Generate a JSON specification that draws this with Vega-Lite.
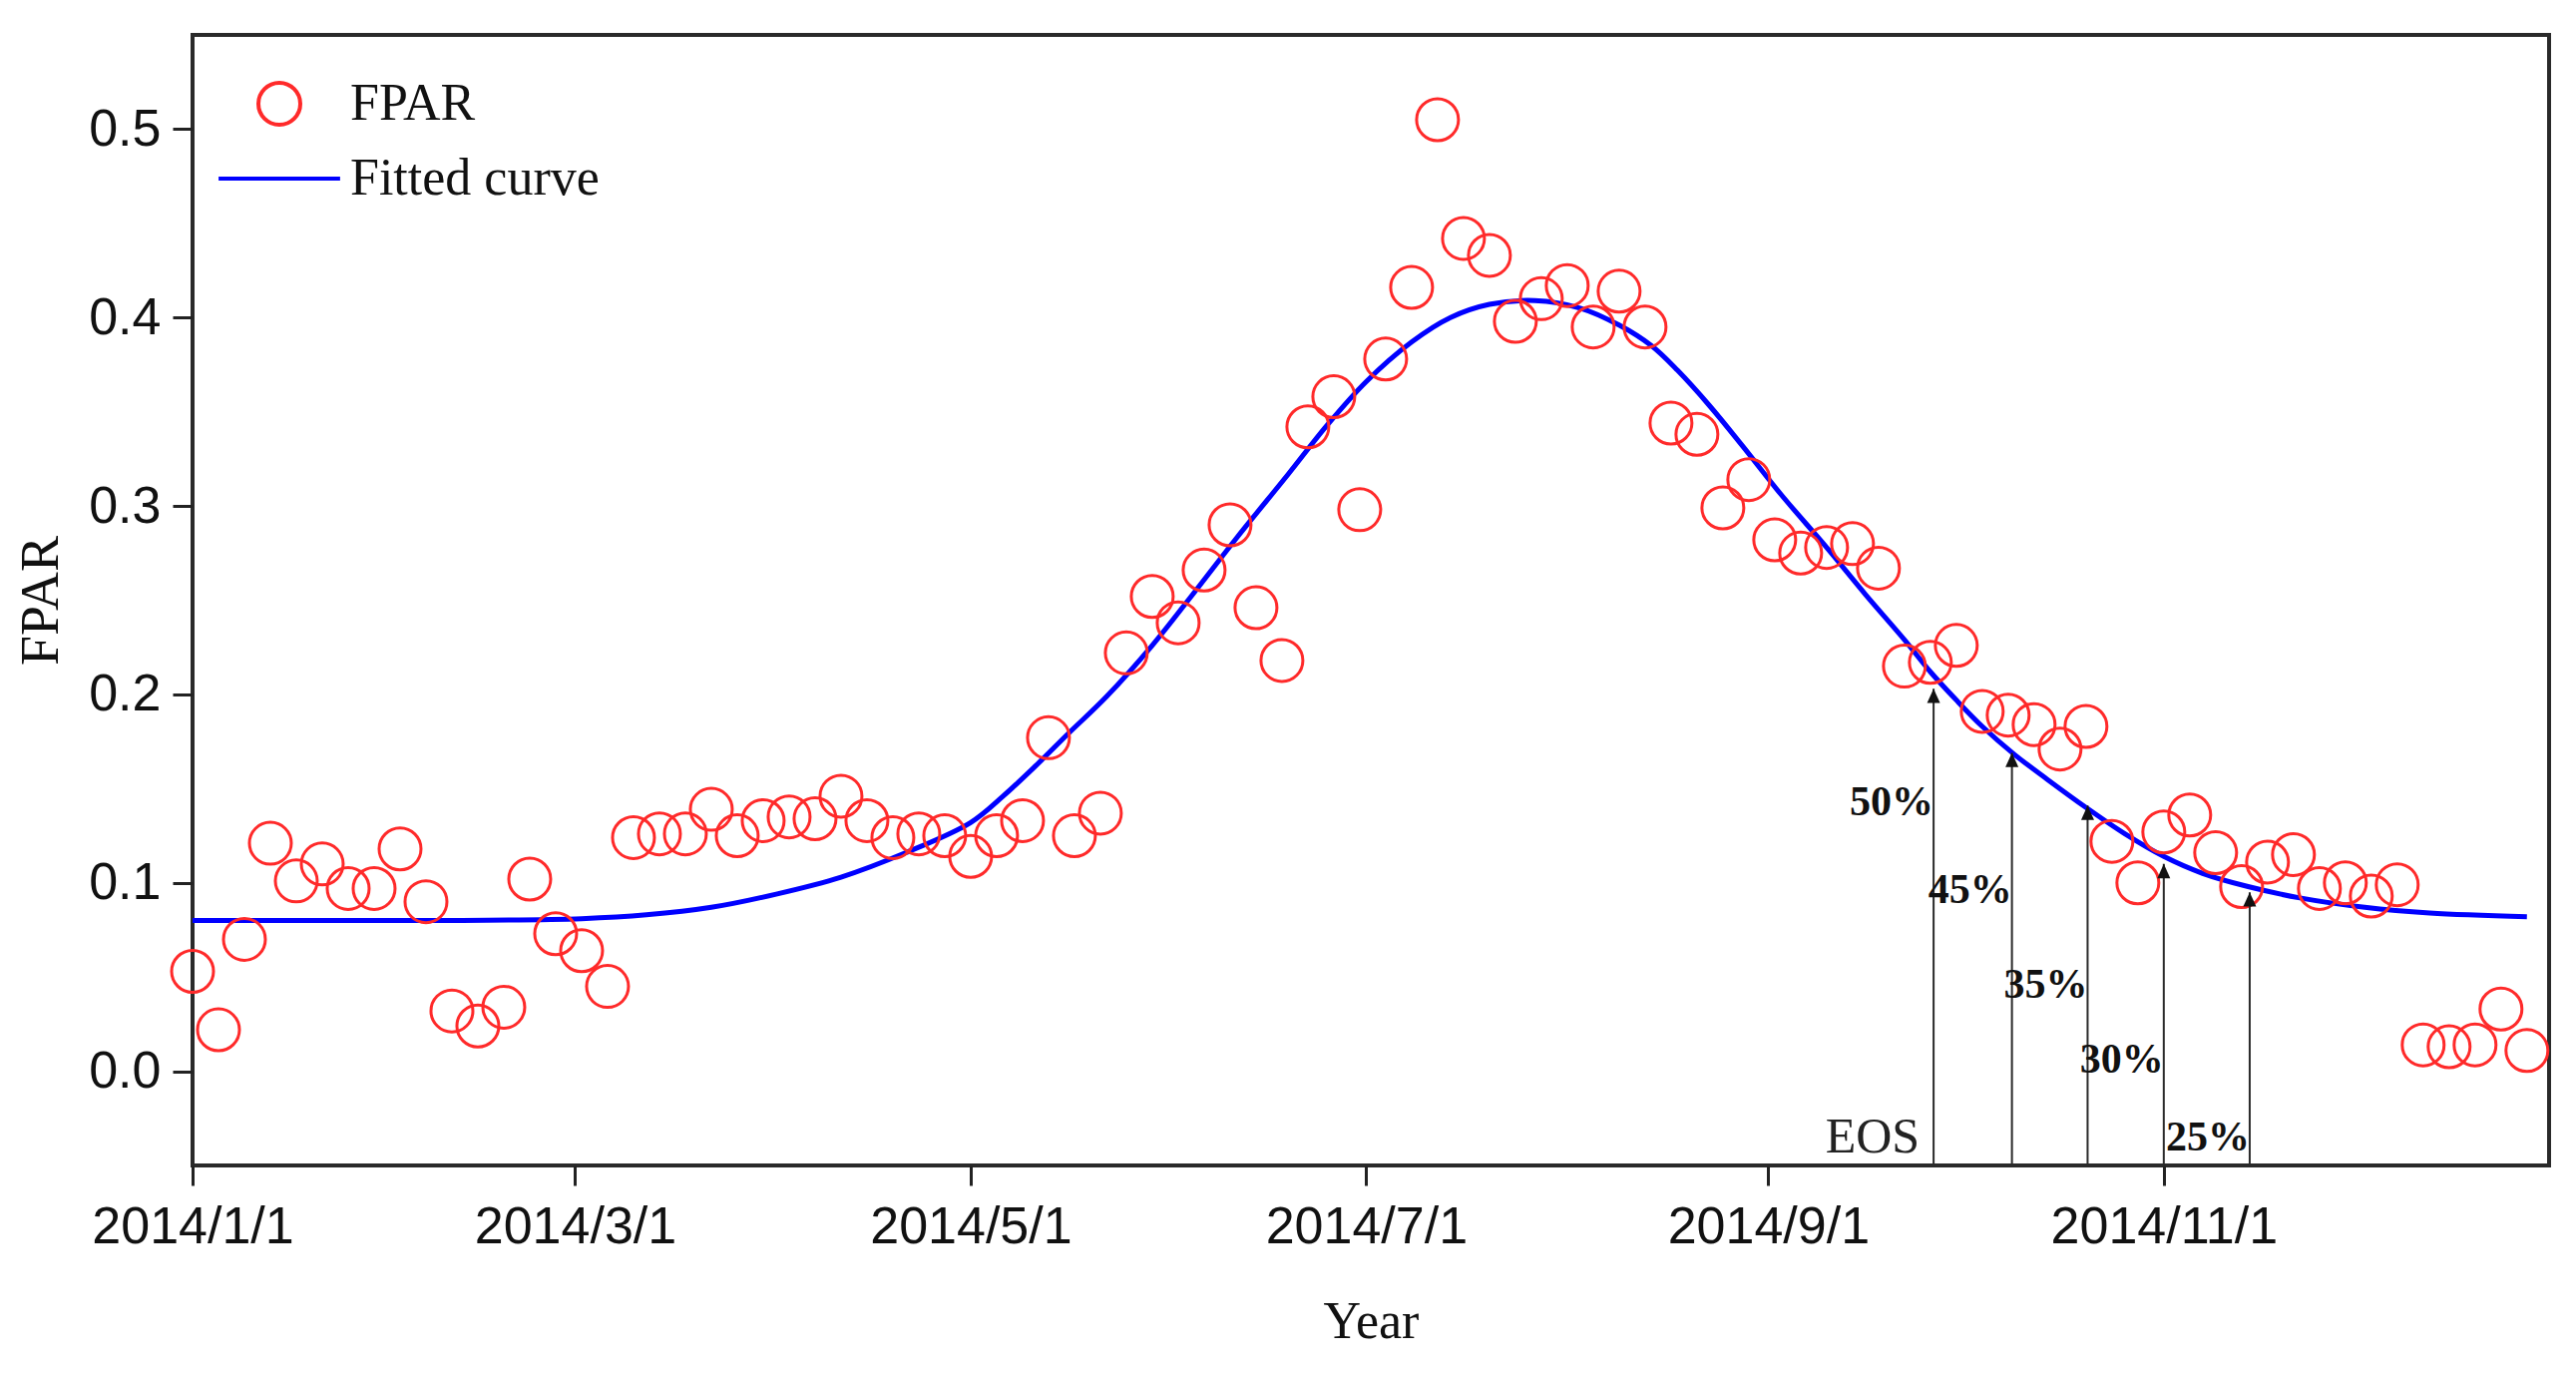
{
  "$schema": "https://vega.github.io/schema/vega-lite/v6.json",
  "width": 2362,
  "height": 1133,
  "autosize": {"type": "none"},
  "padding": {"left": 193, "top": 35, "right": 27, "bottom": 211},
  "background": "white",
  "config": {
    "view": {"stroke": "#2a2a2a", "strokeWidth": 4},
    "axis": {"domain": false, "grid": false, "tickColor": "#222", "tickWidth": 3, "tickSize": 20, "labelColor": "#111", "titleColor": "#111", "labelLimit": 600, "labelFlush": false, "labelOverlap": false}
  },
  "datasets": {
    "obs": [
      {"date": "2014-01-01", "fpar": 0.053, "series": "FPAR"},
      {"date": "2014-01-05", "fpar": 0.022, "series": "FPAR"},
      {"date": "2014-01-09", "fpar": 0.070, "series": "FPAR"},
      {"date": "2014-01-13", "fpar": 0.121, "series": "FPAR"},
      {"date": "2014-01-17", "fpar": 0.101, "series": "FPAR"},
      {"date": "2014-01-21", "fpar": 0.110, "series": "FPAR"},
      {"date": "2014-01-25", "fpar": 0.097, "series": "FPAR"},
      {"date": "2014-01-29", "fpar": 0.097, "series": "FPAR"},
      {"date": "2014-02-02", "fpar": 0.118, "series": "FPAR"},
      {"date": "2014-02-06", "fpar": 0.090, "series": "FPAR"},
      {"date": "2014-02-10", "fpar": 0.032, "series": "FPAR"},
      {"date": "2014-02-14", "fpar": 0.024, "series": "FPAR"},
      {"date": "2014-02-18", "fpar": 0.034, "series": "FPAR"},
      {"date": "2014-02-22", "fpar": 0.102, "series": "FPAR"},
      {"date": "2014-02-26", "fpar": 0.073, "series": "FPAR"},
      {"date": "2014-03-02", "fpar": 0.064, "series": "FPAR"},
      {"date": "2014-03-06", "fpar": 0.045, "series": "FPAR"},
      {"date": "2014-03-10", "fpar": 0.124, "series": "FPAR"},
      {"date": "2014-03-14", "fpar": 0.126, "series": "FPAR"},
      {"date": "2014-03-18", "fpar": 0.126, "series": "FPAR"},
      {"date": "2014-03-22", "fpar": 0.139, "series": "FPAR"},
      {"date": "2014-03-26", "fpar": 0.125, "series": "FPAR"},
      {"date": "2014-03-30", "fpar": 0.133, "series": "FPAR"},
      {"date": "2014-04-03", "fpar": 0.135, "series": "FPAR"},
      {"date": "2014-04-07", "fpar": 0.134, "series": "FPAR"},
      {"date": "2014-04-11", "fpar": 0.146, "series": "FPAR"},
      {"date": "2014-04-15", "fpar": 0.133, "series": "FPAR"},
      {"date": "2014-04-19", "fpar": 0.124, "series": "FPAR"},
      {"date": "2014-04-23", "fpar": 0.126, "series": "FPAR"},
      {"date": "2014-04-27", "fpar": 0.125, "series": "FPAR"},
      {"date": "2014-05-01", "fpar": 0.114, "series": "FPAR"},
      {"date": "2014-05-05", "fpar": 0.125, "series": "FPAR"},
      {"date": "2014-05-09", "fpar": 0.133, "series": "FPAR"},
      {"date": "2014-05-13", "fpar": 0.177, "series": "FPAR"},
      {"date": "2014-05-17", "fpar": 0.125, "series": "FPAR"},
      {"date": "2014-05-21", "fpar": 0.137, "series": "FPAR"},
      {"date": "2014-05-25", "fpar": 0.222, "series": "FPAR"},
      {"date": "2014-05-29", "fpar": 0.252, "series": "FPAR"},
      {"date": "2014-06-02", "fpar": 0.238, "series": "FPAR"},
      {"date": "2014-06-06", "fpar": 0.266, "series": "FPAR"},
      {"date": "2014-06-10", "fpar": 0.290, "series": "FPAR"},
      {"date": "2014-06-14", "fpar": 0.246, "series": "FPAR"},
      {"date": "2014-06-18", "fpar": 0.218, "series": "FPAR"},
      {"date": "2014-06-22", "fpar": 0.342, "series": "FPAR"},
      {"date": "2014-06-26", "fpar": 0.358, "series": "FPAR"},
      {"date": "2014-06-30", "fpar": 0.298, "series": "FPAR"},
      {"date": "2014-07-04", "fpar": 0.378, "series": "FPAR"},
      {"date": "2014-07-08", "fpar": 0.416, "series": "FPAR"},
      {"date": "2014-07-12", "fpar": 0.505, "series": "FPAR"},
      {"date": "2014-07-16", "fpar": 0.442, "series": "FPAR"},
      {"date": "2014-07-20", "fpar": 0.433, "series": "FPAR"},
      {"date": "2014-07-24", "fpar": 0.398, "series": "FPAR"},
      {"date": "2014-07-28", "fpar": 0.410, "series": "FPAR"},
      {"date": "2014-08-01", "fpar": 0.417, "series": "FPAR"},
      {"date": "2014-08-05", "fpar": 0.395, "series": "FPAR"},
      {"date": "2014-08-09", "fpar": 0.414, "series": "FPAR"},
      {"date": "2014-08-13", "fpar": 0.395, "series": "FPAR"},
      {"date": "2014-08-17", "fpar": 0.344, "series": "FPAR"},
      {"date": "2014-08-21", "fpar": 0.338, "series": "FPAR"},
      {"date": "2014-08-25", "fpar": 0.299, "series": "FPAR"},
      {"date": "2014-08-29", "fpar": 0.314, "series": "FPAR"},
      {"date": "2014-09-02", "fpar": 0.282, "series": "FPAR"},
      {"date": "2014-09-06", "fpar": 0.275, "series": "FPAR"},
      {"date": "2014-09-10", "fpar": 0.278, "series": "FPAR"},
      {"date": "2014-09-14", "fpar": 0.280, "series": "FPAR"},
      {"date": "2014-09-18", "fpar": 0.267, "series": "FPAR"},
      {"date": "2014-09-22", "fpar": 0.215, "series": "FPAR"},
      {"date": "2014-09-26", "fpar": 0.217, "series": "FPAR"},
      {"date": "2014-09-30", "fpar": 0.226, "series": "FPAR"},
      {"date": "2014-10-04", "fpar": 0.191, "series": "FPAR"},
      {"date": "2014-10-08", "fpar": 0.189, "series": "FPAR"},
      {"date": "2014-10-12", "fpar": 0.184, "series": "FPAR"},
      {"date": "2014-10-16", "fpar": 0.171, "series": "FPAR"},
      {"date": "2014-10-20", "fpar": 0.183, "series": "FPAR"},
      {"date": "2014-10-24", "fpar": 0.122, "series": "FPAR"},
      {"date": "2014-10-28", "fpar": 0.100, "series": "FPAR"},
      {"date": "2014-11-01", "fpar": 0.127, "series": "FPAR"},
      {"date": "2014-11-05", "fpar": 0.136, "series": "FPAR"},
      {"date": "2014-11-09", "fpar": 0.116, "series": "FPAR"},
      {"date": "2014-11-13", "fpar": 0.098, "series": "FPAR"},
      {"date": "2014-11-17", "fpar": 0.111, "series": "FPAR"},
      {"date": "2014-11-21", "fpar": 0.115, "series": "FPAR"},
      {"date": "2014-11-25", "fpar": 0.097, "series": "FPAR"},
      {"date": "2014-11-29", "fpar": 0.100, "series": "FPAR"},
      {"date": "2014-12-03", "fpar": 0.093, "series": "FPAR"},
      {"date": "2014-12-07", "fpar": 0.099, "series": "FPAR"},
      {"date": "2014-12-11", "fpar": 0.014, "series": "FPAR"},
      {"date": "2014-12-15", "fpar": 0.013, "series": "FPAR"},
      {"date": "2014-12-19", "fpar": 0.014, "series": "FPAR"},
      {"date": "2014-12-23", "fpar": 0.033, "series": "FPAR"},
      {"date": "2014-12-27", "fpar": 0.011, "series": "FPAR"}
    ],
    "fit": [
      {"date": "2014-01-01", "fpar": 0.080, "series": "Fitted curve"},
      {"date": "2014-01-21", "fpar": 0.080, "series": "Fitted curve"},
      {"date": "2014-02-10", "fpar": 0.080, "series": "Fitted curve"},
      {"date": "2014-03-02", "fpar": 0.081, "series": "Fitted curve"},
      {"date": "2014-03-12", "fpar": 0.083, "series": "Fitted curve"},
      {"date": "2014-03-22", "fpar": 0.087, "series": "Fitted curve"},
      {"date": "2014-04-01", "fpar": 0.094, "series": "Fitted curve"},
      {"date": "2014-04-11", "fpar": 0.103, "series": "Fitted curve"},
      {"date": "2014-04-21", "fpar": 0.116, "series": "Fitted curve"},
      {"date": "2014-05-01", "fpar": 0.132, "series": "Fitted curve"},
      {"date": "2014-05-06", "fpar": 0.146, "series": "Fitted curve"},
      {"date": "2014-05-11", "fpar": 0.162, "series": "Fitted curve"},
      {"date": "2014-05-16", "fpar": 0.179, "series": "Fitted curve"},
      {"date": "2014-05-22", "fpar": 0.199, "series": "Fitted curve"},
      {"date": "2014-05-29", "fpar": 0.226, "series": "Fitted curve"},
      {"date": "2014-06-04", "fpar": 0.252, "series": "Fitted curve"},
      {"date": "2014-06-11", "fpar": 0.283, "series": "Fitted curve"},
      {"date": "2014-06-19", "fpar": 0.317, "series": "Fitted curve"},
      {"date": "2014-06-25", "fpar": 0.343, "series": "Fitted curve"},
      {"date": "2014-07-01", "fpar": 0.366, "series": "Fitted curve"},
      {"date": "2014-07-08", "fpar": 0.387, "series": "Fitted curve"},
      {"date": "2014-07-14", "fpar": 0.400, "series": "Fitted curve"},
      {"date": "2014-07-20", "fpar": 0.407, "series": "Fitted curve"},
      {"date": "2014-07-27", "fpar": 0.409, "series": "Fitted curve"},
      {"date": "2014-08-03", "fpar": 0.405, "series": "Fitted curve"},
      {"date": "2014-08-09", "fpar": 0.396, "series": "Fitted curve"},
      {"date": "2014-08-14", "fpar": 0.385, "series": "Fitted curve"},
      {"date": "2014-08-18", "fpar": 0.372, "series": "Fitted curve"},
      {"date": "2014-08-23", "fpar": 0.353, "series": "Fitted curve"},
      {"date": "2014-08-28", "fpar": 0.332, "series": "Fitted curve"},
      {"date": "2014-09-03", "fpar": 0.306, "series": "Fitted curve"},
      {"date": "2014-09-10", "fpar": 0.278, "series": "Fitted curve"},
      {"date": "2014-09-16", "fpar": 0.253, "series": "Fitted curve"},
      {"date": "2014-09-22", "fpar": 0.229, "series": "Fitted curve"},
      {"date": "2014-09-26", "fpar": 0.212, "series": "Fitted curve"},
      {"date": "2014-09-30", "fpar": 0.197, "series": "Fitted curve"},
      {"date": "2014-10-04", "fpar": 0.183, "series": "Fitted curve"},
      {"date": "2014-10-09", "fpar": 0.168, "series": "Fitted curve"},
      {"date": "2014-10-14", "fpar": 0.155, "series": "Fitted curve"},
      {"date": "2014-10-20", "fpar": 0.140, "series": "Fitted curve"},
      {"date": "2014-10-26", "fpar": 0.126, "series": "Fitted curve"},
      {"date": "2014-11-01", "fpar": 0.114, "series": "Fitted curve"},
      {"date": "2014-11-07", "fpar": 0.105, "series": "Fitted curve"},
      {"date": "2014-11-14", "fpar": 0.098, "series": "Fitted curve"},
      {"date": "2014-11-22", "fpar": 0.092, "series": "Fitted curve"},
      {"date": "2014-12-02", "fpar": 0.087, "series": "Fitted curve"},
      {"date": "2014-12-12", "fpar": 0.084, "series": "Fitted curve"},
      {"date": "2014-12-27", "fpar": 0.082, "series": "Fitted curve"}
    ],
    "arrows": [
      {"date": "2014-09-26T12:00:00Z", "tip": 0.203, "label": "50%", "labelAt": 0.143},
      {"date": "2014-10-08T14:00:00Z", "tip": 0.169, "label": "45%", "labelAt": 0.096},
      {"date": "2014-10-20T06:00:00Z", "tip": 0.141, "label": "35%", "labelAt": 0.046},
      {"date": "2014-11-01T00:00:00Z", "tip": 0.110, "label": "30%", "labelAt": 0.006},
      {"date": "2014-11-14T06:00:00Z", "tip": 0.095, "label": "25%", "labelAt": -0.035}
    ],
    "eos": [
      {"date": "2014-09-26T12:00:00Z", "at": -0.035, "text": "EOS"}
    ]
  },
  "layer": [
    {
      "data": {"name": "fit"},
      "mark": {"type": "line", "strokeWidth": 5, "interpolate": "catmull-rom"},
      "encoding": {
        "x": {"field": "date", "type": "temporal"},
        "y": {"field": "fpar", "type": "quantitative"},
        "color": {"field": "series", "type": "nominal"}
      }
    },
    {
      "data": {"name": "obs"},
      "mark": {"type": "point", "filled": false, "strokeWidth": 3, "size": 1764, "opacity": 1},
      "encoding": {
        "x": {
          "field": "date", "type": "temporal",
          "scale": {"type": "utc", "domain": [{"year": 2014, "month": 1, "date": 1, "utc": true}, {"year": 2014, "month": 12, "date": 30, "hours": 10, "utc": true}], "nice": false},
          "axis": {
            "values": [
              {"year": 2014, "month": 1, "date": 1, "utc": true},
              {"year": 2014, "month": 3, "date": 1, "utc": true},
              {"year": 2014, "month": 5, "date": 1, "utc": true},
              {"year": 2014, "month": 7, "date": 1, "utc": true},
              {"year": 2014, "month": 9, "date": 1, "utc": true},
              {"year": 2014, "month": 11, "date": 1, "utc": true}
            ],
            "format": "%Y/%-m/%-d",
            "labelFont": "Liberation Sans", "labelFontSize": 52, "labelPadding": 16,
            "title": "Year", "titleFont": "Liberation Serif", "titleFontSize": 52, "titleFontWeight": "normal", "titlePadding": 44
          }
        },
        "y": {
          "field": "fpar", "type": "quantitative",
          "scale": {"domain": [-0.05, 0.55], "nice": false, "zero": false},
          "axis": {
            "values": [0, 0.1, 0.2, 0.3, 0.4, 0.5],
            "format": ".1f",
            "labelFont": "Liberation Sans", "labelFontSize": 52, "labelPadding": 12,
            "title": "FPAR", "titleFont": "Liberation Serif", "titleFontSize": 54, "titleFontWeight": "normal", "titlePadding": 20
          }
        },
        "color": {
          "field": "series", "type": "nominal",
          "scale": {"domain": ["FPAR", "Fitted curve"], "range": ["#ff2a2a", "#0000ff"]},
          "legend": {
            "orient": "none", "legendX": 61, "legendY": 43, "title": null,
            "labelFont": "Liberation Serif", "labelFontSize": 52, "labelColor": "#111", "labelOffset": 45, "labelLimit": 600,
            "rowPadding": 20, "padding": 0, "symbolSize": 1764, "symbolStrokeWidth": 4,
            "encode": {"symbols": {"update": {"fill": {"value": "transparent"}}}}
          }
        },
        "shape": {
          "field": "series", "type": "nominal",
          "scale": {"domain": ["FPAR", "Fitted curve"], "range": ["circle", "M-2.9,0L2.9,0"]}
        }
      }
    },
    {
      "data": {"name": "arrows"},
      "mark": {"type": "rule", "color": "#2a2a2a", "strokeWidth": 2},
      "encoding": {
        "x": {"field": "date", "type": "temporal"},
        "y": {"field": "tip", "type": "quantitative"},
        "y2": {"datum": -0.05}
      }
    },
    {
      "data": {"name": "arrows"},
      "mark": {"type": "point", "shape": "M0,0L-0.5,1.1L0.5,1.1Z", "filled": true, "color": "#111", "size": 676, "opacity": 1},
      "encoding": {
        "x": {"field": "date", "type": "temporal"},
        "y": {"field": "tip", "type": "quantitative"}
      }
    },
    {
      "data": {"name": "arrows"},
      "mark": {"type": "text", "font": "Liberation Serif", "fontWeight": "bold", "fontSize": 42, "align": "right", "baseline": "middle", "dx": 0, "color": "#111"},
      "encoding": {
        "x": {"field": "date", "type": "temporal"},
        "y": {"field": "labelAt", "type": "quantitative"},
        "text": {"field": "label"}
      }
    },
    {
      "data": {"name": "eos"},
      "mark": {"type": "text", "font": "Liberation Serif", "fontSize": 50, "align": "right", "baseline": "middle", "dx": -14, "color": "#222"},
      "encoding": {
        "x": {"field": "date", "type": "temporal"},
        "y": {"field": "at", "type": "quantitative"},
        "text": {"field": "text"}
      }
    }
  ]
}
